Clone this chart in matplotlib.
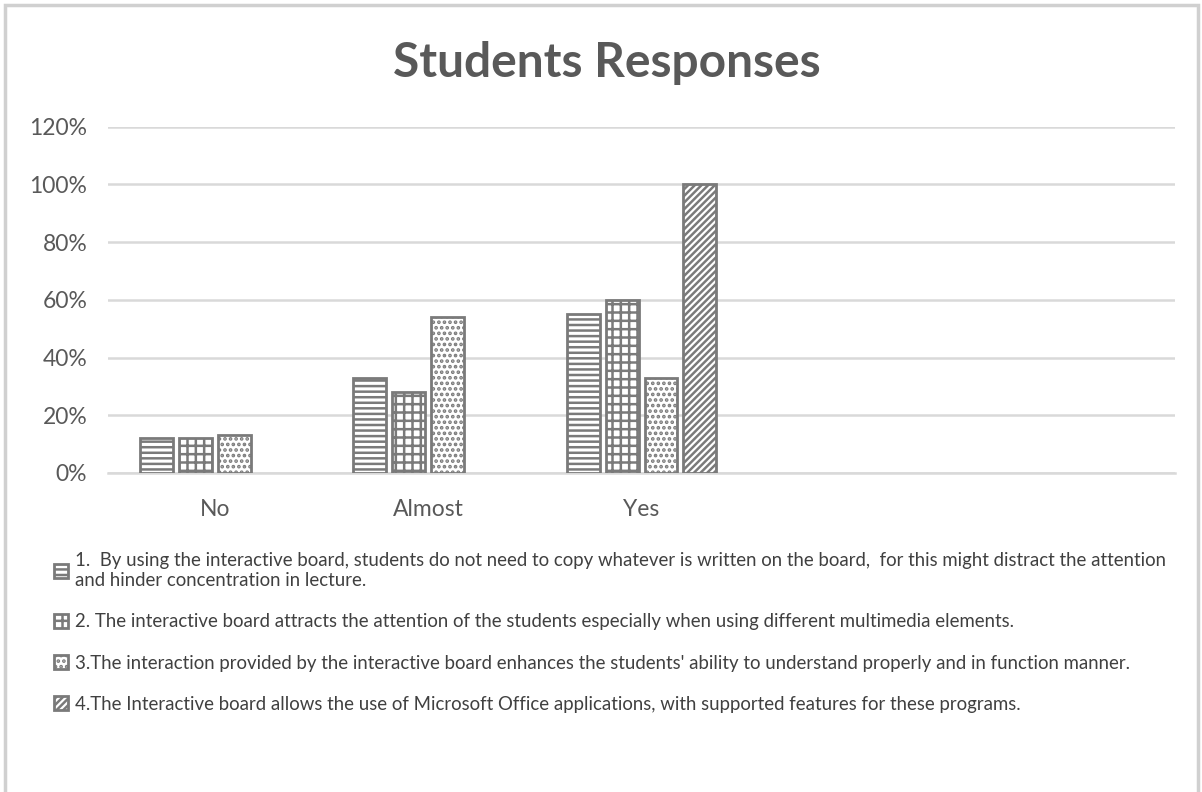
"""Grouped bar chart of student responses to the interactive-board questionnaire."""

import matplotlib
matplotlib.use("Agg")
import matplotlib.pyplot as plt
import numpy as np
from matplotlib.patches import Rectangle
from matplotlib.ticker import PercentFormatter

# --------------------------------------------------------------------------- #
# Data (percent of students per answer)
# --------------------------------------------------------------------------- #
CATEGORIES = ["No", "Almost", "Yes"]
N_SLOTS = 5  # axis keeps room for two more answer categories

Q1 = [12, 33, 55]
Q2 = [12, 28, 60]
Q3 = [13, 54, 33]
Q4 = [np.nan, np.nan, 100]

LABELS = [
    "1.  By using the interactive board, students do not need to copy whatever is written on the board,  for this might distract the attention\n"
    "and hinder concentration in lecture.",
    "2. The interactive board attracts the attention of the students especially when using different multimedia elements.",
    "3.The interaction provided by the interactive board enhances the students' ability to understand properly and in function manner.",
    "4.The Interactive board allows the use of Microsoft Office applications, with supported features for these programs.",
]
HATCHES = ["---", "++", "...", "/////"]

GRAY = "#7a7a7a"
GRID = "#d9d9d9"
TEXT = "#595959"
FONT = "Lato"

plt.rcParams["font.family"] = [FONT, "DejaVu Sans"]
plt.rcParams["hatch.linewidth"] = 1.8
plt.rcParams["hatch.color"] = GRAY

fig = plt.figure(figsize=(12.02, 7.92), dpi=100)
ax = fig.add_axes([0.0899, 0.4028, 0.8876, 0.4372])

series = [Q1, Q2, Q3, Q4]
x = np.arange(len(CATEGORIES))
pitch = 0.1827
width = 0.1546
handles = []
for i, (vals, hatch) in enumerate(zip(series, HATCHES)):
    bars = ax.bar(x + (i - 1.5) * pitch, vals, width,
                  facecolor="white", edgecolor=GRAY, linewidth=2.0,
                  hatch=hatch, zorder=3)
    handles.append(bars)

ax.set_xlim(-0.5, N_SLOTS - 0.5)
ax.set_ylim(0, 120)
ax.set_yticks(np.arange(0, 121, 20))
ax.yaxis.set_major_formatter(PercentFormatter(decimals=0))
ax.set_xticks(x)
ax.set_xticklabels(CATEGORIES)
ax.tick_params(axis="both", length=0, colors=TEXT, labelsize=16.5)
ax.tick_params(axis="y", pad=15)
ax.tick_params(axis="x", pad=19)
ax.grid(axis="y", color=GRID, linewidth=1.8, zorder=0)
for side in ("top", "right", "left"):
    ax.spines[side].set_visible(False)
ax.spines["bottom"].set_color(GRID)
ax.spines["bottom"].set_linewidth(1.8)

fig.text(0.505, 0.92, "Students Responses", ha="center", va="center",
         fontsize=34.5, fontweight="bold", color=TEXT)

leg = fig.legend(handles, LABELS, loc="upper left", bbox_to_anchor=(0.039, 0.312),
                 frameon=False, fontsize=13.4, labelcolor="#404040",
                 handlelength=0.75, handleheight=0.75, handletextpad=0.35,
                 labelspacing=1.3, borderaxespad=0)

# chart frame
fig.add_artist(Rectangle((0.0045, -0.02), 0.9925, 1.014, transform=fig.transFigure,
                         fill=False, edgecolor="#d0d0d0", linewidth=2.5))

fig.savefig("out.png", dpi=100)
